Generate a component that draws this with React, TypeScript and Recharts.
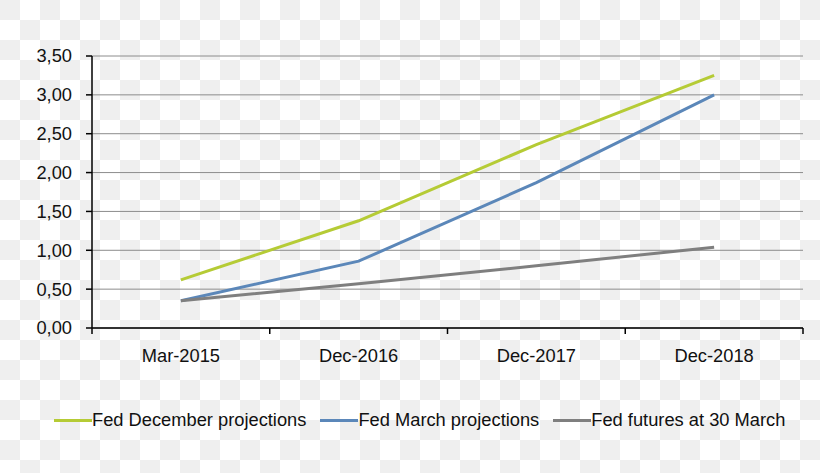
import { CartesianGrid, Legend, Line, LineChart, XAxis, YAxis } from 'recharts';

const periods = ['Mar-2015', 'Dec-2016', 'Dec-2017', 'Dec-2018'];
const fedDecember = [0.62, 1.38, 2.36, 3.25];
const fedMarch = [0.35, 0.86, 1.87, 3.0];
const fedFutures = [0.35, 0.57, 0.8, 1.04];
const yTicks = [0, 0.5, 1, 1.5, 2, 2.5, 3, 3.5];

const seriesDefs = [
  { key: 'dec', name: 'Fed December projections', color: '#b5cb35', values: fedDecember },
  { key: 'mar', name: 'Fed March projections', color: '#5b87b9', values: fedMarch },
  { key: 'fut', name: 'Fed futures at 30 March', color: '#7f7f7f', values: fedFutures },
];

const chartData = periods.map((period, i) => {
  const row: Record<string, string | number> = { period };
  seriesDefs.forEach((s) => {
    row[s.key] = s.values[i];
  });
  return row;
});

const FONT = '"Liberation Sans", Arial, sans-serif';
const FONT_SIZE = 18.3;

const formatComma = (v: number) => v.toFixed(2).replace('.', ',');

// category axis with tick marks on the band edges, label in the middle
function BandTick(props: any) {
  const { x, y, payload, index, visibleTicksCount } = props;
  const half = payload.offset ?? 0;
  const isLast = index === (visibleTicksCount ?? periods.length) - 1;
  return (
    <g>
      <line x1={x - half} x2={x - half} y1={y} y2={y + 6} stroke="#000" strokeWidth={1.5} />
      {isLast && <line x1={x + half} x2={x + half} y1={y} y2={y + 6} stroke="#000" strokeWidth={1.5} />}
      <text x={x} y={y + 34} textAnchor="middle" fill="#111" fontSize={FONT_SIZE} fontFamily={FONT}>
        {payload.value}
      </text>
    </g>
  );
}

function LegendRow(props: any) {
  const items = props.payload ?? [];
  return (
    <div style={{ display: 'flex', alignItems: 'center', paddingLeft: 54, height: 40 }}>
      {items.map((item: any) => (
        <div key={item.value} style={{ display: 'flex', alignItems: 'center', marginRight: 14 }}>
          <span style={{ display: 'inline-block', width: 38, height: 3, background: item.color }} />
          <span style={{ fontFamily: FONT, fontSize: FONT_SIZE, color: '#111' }}>{item.value}</span>
        </div>
      ))}
    </div>
  );
}

export default function App() {
  return (
    <div
      style={{
        position: 'absolute',
        left: 0,
        top: 0,
        width: 820,
        height: 473,
        background: 'repeating-conic-gradient(#ffffff 0% 25%, #efefef 0% 50%) 0 0 / 40px 40px',
      }}
    >
      <LineChart width={820} height={473} data={chartData} margin={{ top: 56, right: 17, left: 0, bottom: 65 }}>
        <CartesianGrid vertical={false} stroke="#8c8c8c" strokeWidth={1} />
        <XAxis
          dataKey="period"
          scale="band"
          tickLine={false}
          tickSize={0}
          tickMargin={0}
          height={40}
          axisLine={{ stroke: '#000', strokeWidth: 1.5 }}
          tick={<BandTick />}
          interval={0}
        />
        <YAxis
          width={92}
          domain={[0, 3.5]}
          ticks={yTicks}
          tickFormatter={formatComma}
          tickSize={6}
          tickMargin={14}
          axisLine={{ stroke: '#000', strokeWidth: 1.5 }}
          tickLine={{ stroke: '#000', strokeWidth: 1.5 }}
          tick={{ fill: '#111', fontSize: FONT_SIZE, fontFamily: FONT }}
        />
        <Legend
          verticalAlign="bottom"
          content={<LegendRow />}
          wrapperStyle={{ top: 400, bottom: 'auto', left: 0, width: 820, height: 40 }}
        />
        {seriesDefs.map((s) => (
          <Line
            key={s.key}
            dataKey={s.key}
            name={s.name}
            stroke={s.color}
            strokeWidth={3}
            type="linear"
            dot={false}
            activeDot={false}
            isAnimationActive={false}
          />
        ))}
      </LineChart>
    </div>
  );
}
